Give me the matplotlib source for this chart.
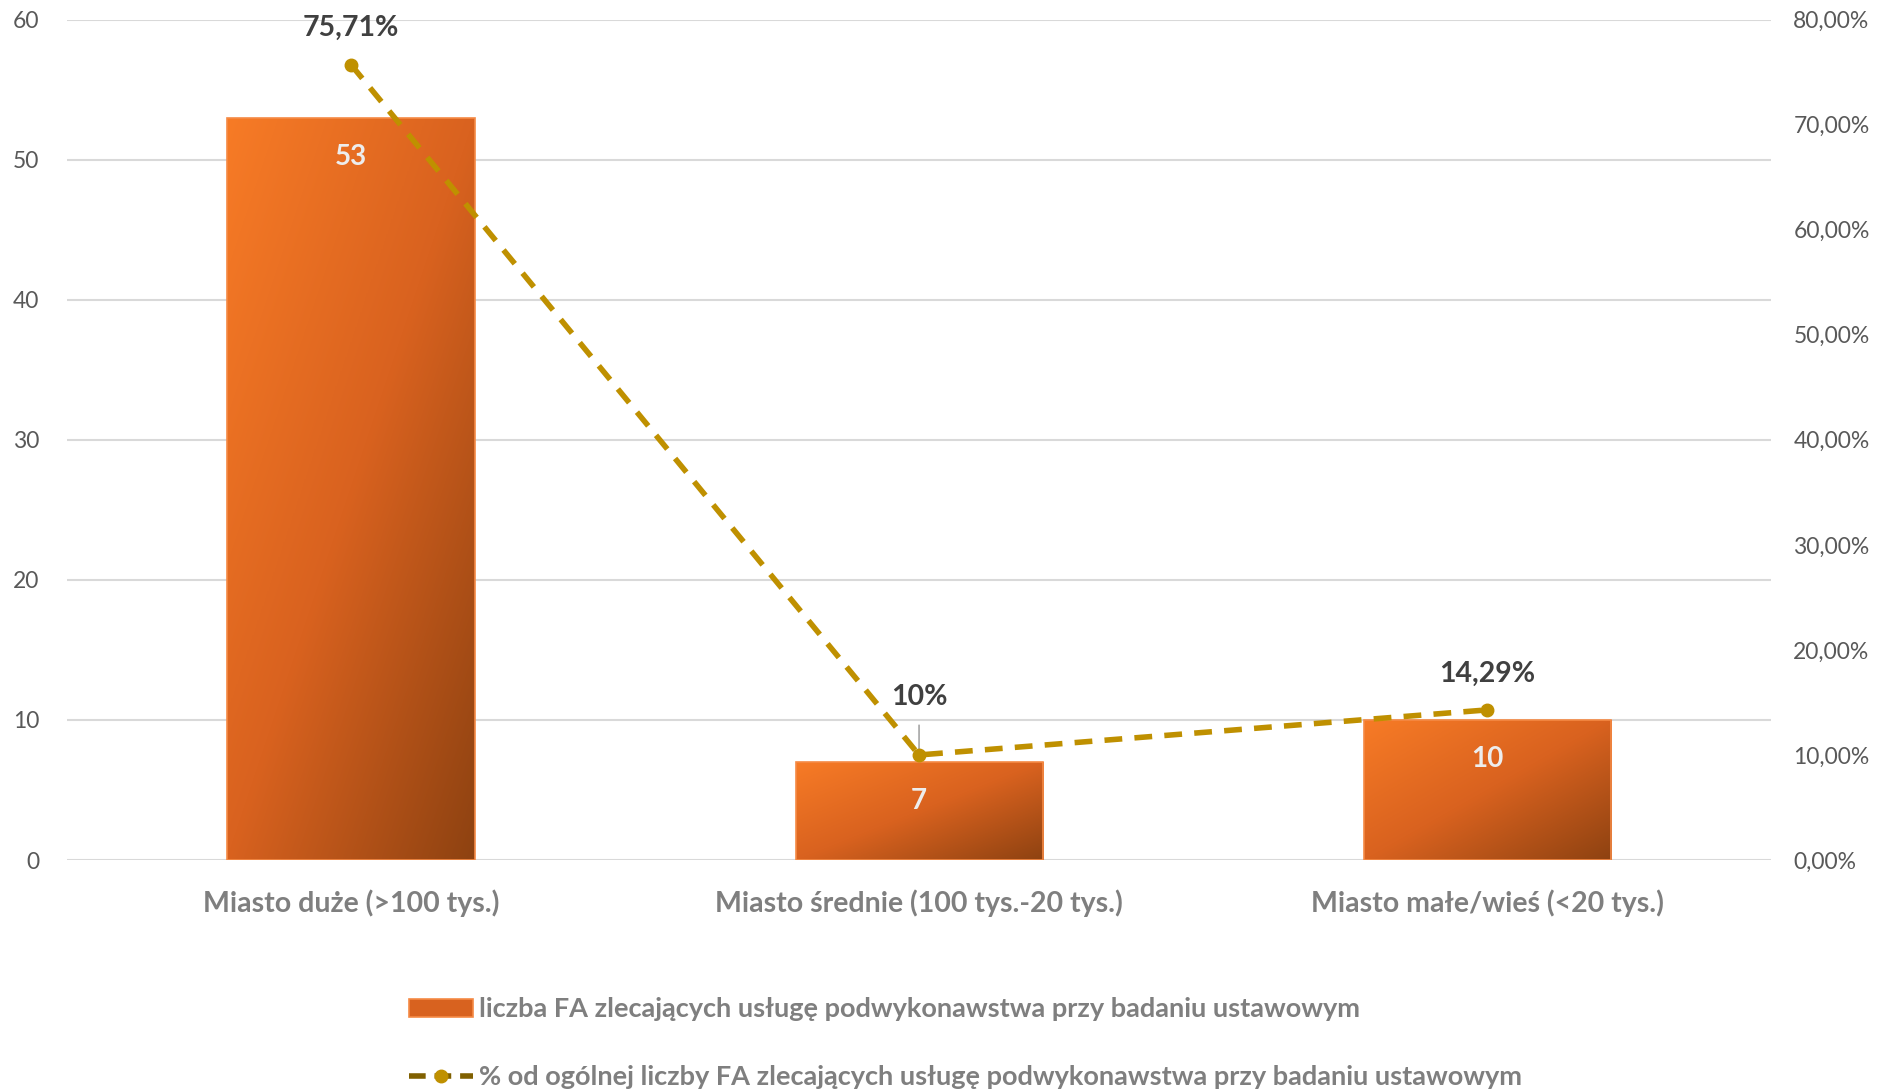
import numpy as np
import matplotlib
matplotlib.use('Agg')
from matplotlib import pyplot as plt
from matplotlib.lines import Line2D
from matplotlib.patches import Patch
from matplotlib.colors import LinearSegmentedColormap

## Data
categories = ['Miasto duże (>100 tys.)', 'Miasto średnie (100 tys.-20 tys.)', 'Miasto małe/wieś (<20 tys.)']
counts = [53, 7, 10]
shares = [75.71, 10.0, 14.29]
share_labels = ['75,71%', '10%', '14,29%']
left_ticks = [0, 10, 20, 30, 40, 50, 60]
right_ticks = [0, 10, 20, 30, 40, 50, 60, 70, 80]
bar_legend = 'liczba FA zlecających usługę podwykonawstwa przy badaniu ustawowym'
line_legend = '% od ogólnej liczby FA zlecających usługę podwykonawstwa przy badaniu ustawowym'

plt.rcParams['font.family'] = ['Lato', 'DejaVu Sans']

fig = plt.figure(figsize=(18.81, 10.9), dpi=100)
ax = fig.add_axes([0.0356, 0.211, 0.906, 0.771])
ax2 = ax.twinx()

x = np.arange(len(categories))
bars = ax.bar(x, counts, width=0.435, color='none', edgecolor='#F58A45', linewidth=1.2, zorder=3)

## gradient fill clipped to each bar
cmap = LinearSegmentedColormap.from_list('og', ['#F77B26', '#D9621F', '#8E4211'])
gx, gy = np.meshgrid(np.linspace(0, 1, 200), np.linspace(0, 1, 200))
grad = (gx + gy) / 2
for b in bars:
    x0, y0 = b.get_x(), b.get_y()
    w, h = b.get_width(), b.get_height()
    im = ax.imshow(grad, cmap=cmap, extent=[x0, x0 + w, y0, y0 + h], origin='upper',
                   aspect='auto', zorder=2, interpolation='bilinear')
    im.set_clip_path(b)

for i, c in enumerate(counts):
    ax.annotate(str(c), (x[i], c), xytext=(0, -39), textcoords='offset pixels',
                ha='center', va='center', fontsize=20, fontweight='bold', color='#EDEDED', zorder=5)

ax.set_xlim(-0.5, 2.5)
ax.set_ylim(0, 60)
ax.set_yticks(left_ticks)
ax.set_xticks(x)
ax.set_xticklabels(categories, fontsize=20.5, fontweight='bold', color='#7F7F7F')
ax.tick_params(axis='x', length=0, pad=21.5)
ax.tick_params(axis='y', length=0, labelsize=16.5, labelcolor='#595959', pad=20)
ax.grid(axis='y', color='#D9D9D9', linewidth=1.5, zorder=0)
ax.set_axisbelow(True)
for s in ax.spines.values():
    s.set_visible(False)

## line on right axis
ln, = ax2.plot(x, shares, color='#BF9000', linewidth=4, marker='o', markersize=9, zorder=6)
ln.set_dashes((3.2, 2.2))
ax2.set_ylim(0, 80)
ax2.set_yticks(right_ticks)
ax2.set_yticklabels(['%d,00%%' % t for t in right_ticks])
ax2.tick_params(axis='y', length=0, labelsize=16.5, labelcolor='#595959', pad=16)
for s in ax2.spines.values():
    s.set_visible(False)

offsets = [37, 58, 36]
for i in range(len(shares)):
    if i == 1:
        ax2.annotate(share_labels[i], (x[i], shares[i]), xytext=(0, offsets[i]), textcoords='offset pixels',
                     ha='center', va='center', fontsize=20.5, fontweight='bold', color='#404040',
                     arrowprops=dict(arrowstyle='-', color='#A6A6A6', lw=1.2, shrinkA=9, shrinkB=0))
    else:
        ax2.annotate(share_labels[i], (x[i], shares[i]), xytext=(0, offsets[i]), textcoords='offset pixels',
                     ha='center', va='center', fontsize=20.5, fontweight='bold', color='#404040')

## legend
handles = [Patch(facecolor='#D8621F', edgecolor='#F58A45', linewidth=1.2),
           Line2D([0], [0], color='#806000', linewidth=4, linestyle=(0, (3, 1.6)),
                  marker='o', markersize=9, markerfacecolor='#BF9000', markeredgecolor='#BF9000')]
fig.legend(handles, [bar_legend, line_legend], loc='center left', bbox_to_anchor=(0.2045, 0.043),
           frameon=False, ncol=1, labelspacing=1.6, handlelength=2.35, handleheight=0.6, handletextpad=0.25,
           prop={'size': 19.5, 'weight': 'bold'}, labelcolor='#7F7F7F')

fig.savefig('out.png', dpi=100)
